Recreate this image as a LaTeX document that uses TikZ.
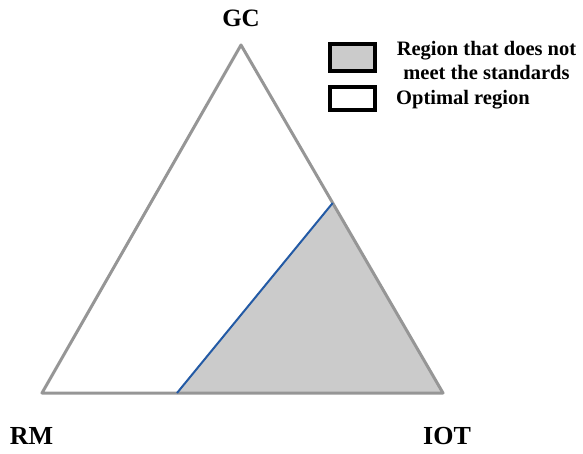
\documentclass[tikz,border=0pt]{standalone}
\usepackage{fontspec}
\setmainfont{Liberation Serif}
\usetikzlibrary{calc}
\definecolor{regiongray}{RGB}{203,203,203}
\definecolor{edgegray}{RGB}{150,150,150}
\definecolor{cutblue}{RGB}{35,90,165}
\begin{document}
\begin{tikzpicture}[x=1pt,y=1pt,every node/.style={font=\bfseries},
  edge/.style={draw=edgegray,line width=3pt,line join=round},
  vlabel/.style={inner sep=0pt,font=\fontsize{26}{29}\selectfont\bfseries},
  legbox/.style={draw=black,line width=4pt,minimum width=45pt,minimum height=27pt,inner sep=0pt}]
  \useasboundingbox (0,0) rectangle (583,453);
  % corners of the diagram
  \coordinate (gc) at (241,408);
  \coordinate (rm) at (42,60);
  \coordinate (iot) at (443,60);
  % boundary of the region
  \coordinate (cutb) at (177,60);
  \coordinate (cutr) at ($(gc)!0.454!(iot)$);
  \fill[regiongray] (cutb) -- (cutr) -- (iot) -- cycle;
  \draw[edge] (gc) -- (rm) -- (iot) -- cycle;
  \draw[cutblue,line width=2pt] (cutb) -- (cutr);
  % vertex labels
  \node[vlabel,font=\fontsize{25}{28}\selectfont\bfseries] (lgc) at (241,435) {GC};
  \node[vlabel] (lrm) at (31.5,17) {RM};
  \node[vlabel] (liot) at (447,17) {IOT};
  % legend
  \node[legbox,fill=regiongray] (bad) at (352.5,395.5) {};
  \node[legbox,fill=white,minimum height=23pt] (good) at (352.5,354.5) {};
  \node[align=center,font=\fontsize{20.5}{24}\selectfont\bfseries] (lbad) at (486.5,393) {Region that does not\\meet the standards};
  \node[anchor=west,inner sep=0pt,font=\fontsize{20.5}{24}\selectfont\bfseries] (lgood) at (396,353) {Optimal region};
\end{tikzpicture}
\end{document}
